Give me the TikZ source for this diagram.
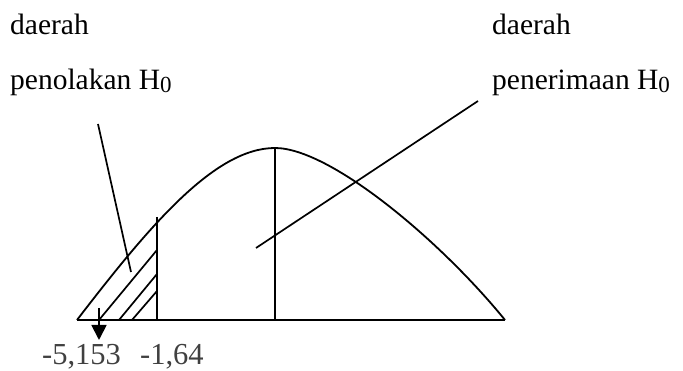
\documentclass[tikz,border=0pt]{standalone}
\usepackage{fontspec}
\setmainfont{Liberation Serif}
\usetikzlibrary{arrows.meta}
\tikzset{
  lbl/.style={anchor=base west, inner sep=0pt, font=\fontsize{29.5}{30}\selectfont},
  numlbl/.style={anchor=base west, inner sep=0pt, font=\fontsize{30.5}{31}\selectfont, text=black!75},
  curveline/.style={line width=1.8pt, line join=round},
  pointer/.style={line width=1.7pt},
}
\newcommand{\Hnol}{H\raisebox{-3pt}{\fontsize{23}{23}\selectfont 0}}
\begin{document}
\begin{tikzpicture}[x=1pt,y=-1pt]
\useasboundingbox (0,0) rectangle (683,371);
% texts
\node[lbl] (dl) at (10,35) {daerah};
\node[lbl] (pl) at (10,90) {penolakan \Hnol};
\node[lbl] (dr) at (492,35) {daerah};
\node[lbl] (pr) at (492,90) {penerimaan \Hnol};
\node[numlbl] (n1) at (42,365) {-5,153};
\node[numlbl] (n2) at (140,365) {-1,64};
% key points
\coordinate (L) at (77,320);
\coordinate (R) at (505,320);
\coordinate (P) at (275,148);
\coordinate (PB) at (275,320);
\coordinate (C) at (157,217);
\coordinate (CB) at (157,320);
% base line
\draw[curveline] (L) -- (R);
% curve
\draw[curveline] (L) .. controls (150,225) and (215,148) .. (P)
                     .. controls (330,148) and (440,240) .. (R);
% verticals
\draw[curveline] (C) -- (CB);
\draw[curveline] (P) -- (PB);
% hatching
\coordinate (h1a) at (99,320);  \coordinate (h1b) at (157,250);
\coordinate (h2a) at (119,320); \coordinate (h2b) at (157,274);
\coordinate (h3a) at (132,320); \coordinate (h3b) at (157,291);
\draw[pointer] (h1a) -- (h1b);
\draw[pointer] (h2a) -- (h2b);
\draw[pointer] (h3a) -- (h3b);
% pointers
\coordinate (lp1) at (98,124);  \coordinate (lp2) at (131,272);
\coordinate (rp1) at (478,101); \coordinate (rp2) at (256,248);
\draw[pointer] (lp1) -- (lp2);
\draw[pointer] (rp1) -- (rp2);
% arrow
\coordinate (a1) at (99,308); \coordinate (a2) at (99,340);
\draw[line width=1.8pt, -{Triangle[width=15pt,length=15pt]}] (a1) -- (a2);
\end{tikzpicture}
\end{document}
